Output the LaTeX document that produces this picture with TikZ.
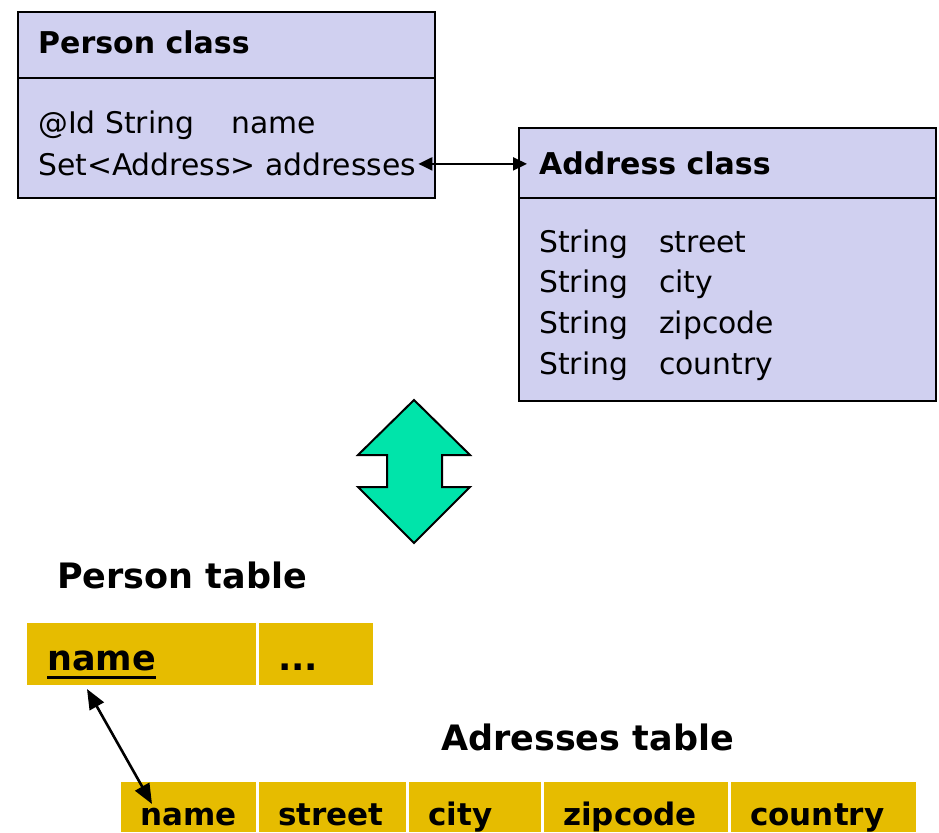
\documentclass[tikz,border=0pt]{standalone}
\usepackage{fontspec}
\setmainfont{DejaVu Sans}
\usetikzlibrary{arrows.meta}

\definecolor{classfill}{RGB}{208,208,240}
\definecolor{tablefill}{RGB}{230,188,0}
\definecolor{arrowfill}{RGB}{0,228,170}

\tikzset{
    classbox/.style={draw=black, line width=2.8pt, fill=classfill, anchor=north west, inner sep=0pt, outer sep=0pt},
    headtext/.style={anchor=base west, inner sep=0pt, font=\fontsize{30}{36}\selectfont\bfseries},
    fieldtext/.style={anchor=base west, inner sep=0pt, font=\fontsize{29.8}{36}\selectfont},
    tablehead/.style={anchor=base west, inner sep=0pt, font=\fontsize{35}{42}\selectfont\bfseries},
    cell/.style={fill=tablefill, anchor=north west, inner sep=0pt, outer sep=0pt},
    keytext/.style={anchor=base west, inner sep=0pt, font=\fontsize{35}{42}\selectfont\bfseries},
    coltext/.style={anchor=base west, inner sep=0pt, font=\fontsize{31}{37}\selectfont\bfseries},
    link/.style={{Triangle[length=14pt,width=13pt]}-{Triangle[length=14pt,width=13pt]}, line width=2.2pt},
    keylink/.style={{Triangle[length=20pt,width=16pt]}-{Triangle[length=20pt,width=16pt]}, line width=2.6pt},
}

\begin{document}
\begin{tikzpicture}[x=1pt, y=-1pt]
        \newcommand{\boxwidth}{417}
        \newcommand{\linegap}{40.7}

        \useasboundingbox (0, 0) rectangle (939, 832);

        % person class
        \node [classbox, minimum width=\boxwidth, minimum height=66] (personhead) at (18, 12) {};
        \node [classbox, minimum width=\boxwidth, minimum height=120] (personbody) at (personhead.south west) {};
        \node [headtext] (persontitle) at (38, 54) {Person class};
        \node [fieldtext] (personid) at (38, 134) {@Id String\hspace{37pt}name};
        \node [fieldtext] (personaddr) at (38, 175) {Set<Address> addresses};

        % address class
        \node [classbox, minimum width=\boxwidth, minimum height=70] (addresshead) at (519, 128) {};
        \node [classbox, minimum width=\boxwidth, minimum height=203] (addressbody) at (addresshead.south west) {};
        \node [headtext] (addresstitle) at (539, 174) {Address class};
        \foreach \field [count=\i from 0] in {street, city, zipcode, country} {
            \node [fieldtext] (type\i) at (539, 252 + \linegap*\i) {String};
            \node [fieldtext] (field\i) at (659, 252 + \linegap*\i) {\field};
        }

        \coordinate (addressin) at ([xshift=8pt]addresshead.west |- personaddr.east);
        \draw [link] ([xshift=2pt]personaddr.east) -- (addressin);

        % mapping arrow
        \draw [line width=2pt, fill=arrowfill] (414, 400) -- (470, 455) -- (442, 455) -- (442, 487)
        -- (470, 487) -- (414, 543) -- (358, 487) -- (387, 487) -- (387, 455) -- (358, 455) -- cycle;

        % person table
        \node [tablehead] (persontable) at (57, 588) {Person table};
        \node [cell, minimum width=229, minimum height=62] (pkeycell) at (27, 623) {};
        \node [cell, minimum width=114, minimum height=62] (pmorecell) at (259, 623) {};
        \node [keytext] (pkey) at (47, 670) {name};
        \node [keytext] (pmore) at (278, 670) {...};
        \draw [line width=3pt] ([yshift=-7pt]pkey.south west) -- ([yshift=-7pt]pkey.south east);

        % addresses table
        \node [tablehead] (addresstable) at (441, 750) {Adresses table};
        \foreach \x/\w/\col in {121/135/name, 259/147/street, 409/132/city, 544/184/zipcode, 731/185/country} {
            \node [cell, minimum width=\w, minimum height=50] (cell-\col) at (\x, 782) {};
            \node [coltext] (col-\col) at (\x + 19, 825) {\col};
        }

        \coordinate (keyend) at (87, 689);
        \coordinate (fkend) at (152, 804);
        \draw [keylink] (keyend) -- (fkend);

    \end{tikzpicture}
\end{document}
